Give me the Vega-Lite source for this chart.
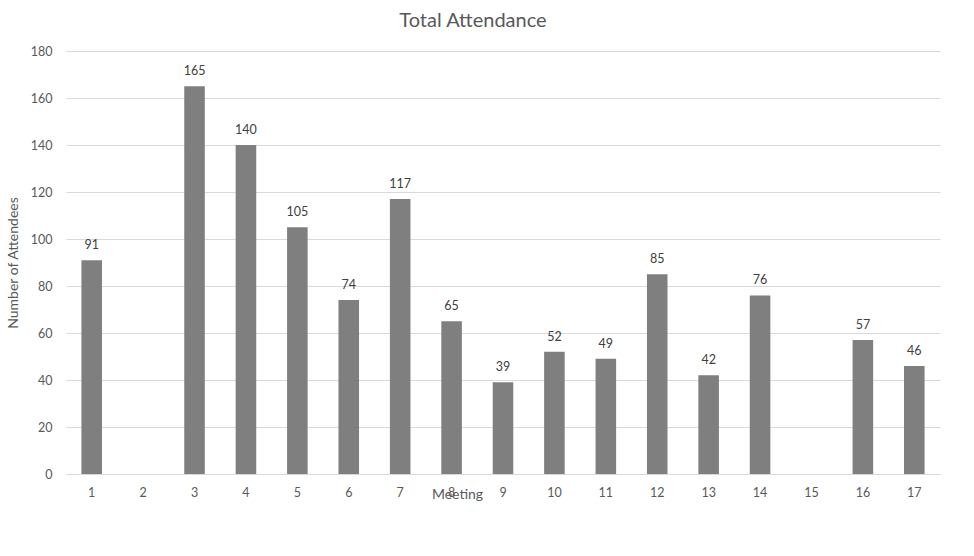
{
  "$schema": "https://vega.github.io/schema/vega-lite/v6.json",
  "width": 874,
  "height": 423,
  "autosize": {"type": "none"},
  "padding": {"left": 66, "top": 51, "right": 34, "bottom": 82},
  "background": "white",
  "title": {
    "text": "Total Attendance",
    "fontSize": 20,
    "font": "Lato",
    "fontWeight": "normal",
    "color": "#595959",
    "anchor": "middle",
    "dx": -30,
    "offset": 14
  },
  "config": {
    "view": {"stroke": null},
    "font": "Lato",
    "axis": {
      "labelColor": "#595959",
      "titleColor": "#595959",
      "labelFont": "Lato",
      "titleFont": "Lato",
      "labelFontSize": 12.5,
      "titleFontSize": 14,
      "titleFontWeight": "normal"
    }
  },
  "data": {
    "values": [
      {"Meeting": "1", "Attendance": 91},
      {"Meeting": "2", "Attendance": null},
      {"Meeting": "3", "Attendance": 165},
      {"Meeting": "4", "Attendance": 140},
      {"Meeting": "5", "Attendance": 105},
      {"Meeting": "6", "Attendance": 74},
      {"Meeting": "7", "Attendance": 117},
      {"Meeting": "8", "Attendance": 65},
      {"Meeting": "9", "Attendance": 39},
      {"Meeting": "10", "Attendance": 52},
      {"Meeting": "11", "Attendance": 49},
      {"Meeting": "12", "Attendance": 85},
      {"Meeting": "13", "Attendance": 42},
      {"Meeting": "14", "Attendance": 76},
      {"Meeting": "15", "Attendance": null},
      {"Meeting": "16", "Attendance": 57},
      {"Meeting": "17", "Attendance": 46}
    ]
  },
  "encoding": {
    "x": {
      "field": "Meeting",
      "type": "ordinal",
      "sort": null,
      "scale": {
        "domain": ["1","2","3","4","5","6","7","8","9","10","11","12","13","14","15","16","17"],
        "paddingInner": 0.6,
        "paddingOuter": 0.3
      },
      "axis": {
        "title": "Meeting",
        "labelAngle": 0,
        "labelPadding": 12,
        "ticks": false,
        "domain": true,
        "domainColor": "#d9d9d9",
        "domainWidth": 1,
        "titleX": 391,
        "titleY": 20,
        "titleAnchor": "middle",
        "titleBaseline": "middle",
        "titleAlign": "center"
      }
    },
    "y": {
      "field": "Attendance",
      "type": "quantitative",
      "scale": {"domain": [0, 180], "nice": false},
      "axis": {
        "title": "Number of Attendees",
        "values": [0, 20, 40, 60, 80, 100, 120, 140, 160, 180],
        "grid": true,
        "gridColor": "#d9d9d9",
        "gridWidth": 1,
        "domain": false,
        "ticks": false,
        "labelPadding": 14,
        "titlePadding": 10
      }
    }
  },
  "layer": [
    {
      "mark": {"type": "bar", "color": "#7f7f7f"}
    },
    {
      "transform": [{"filter": "datum.Attendance != null"}],
      "mark": {"type": "text", "baseline": "bottom", "dy": -8, "fontSize": 12.5, "color": "#404040", "font": "Lato"},
      "encoding": {"text": {"field": "Attendance", "type": "quantitative"}}
    }
  ]
}
